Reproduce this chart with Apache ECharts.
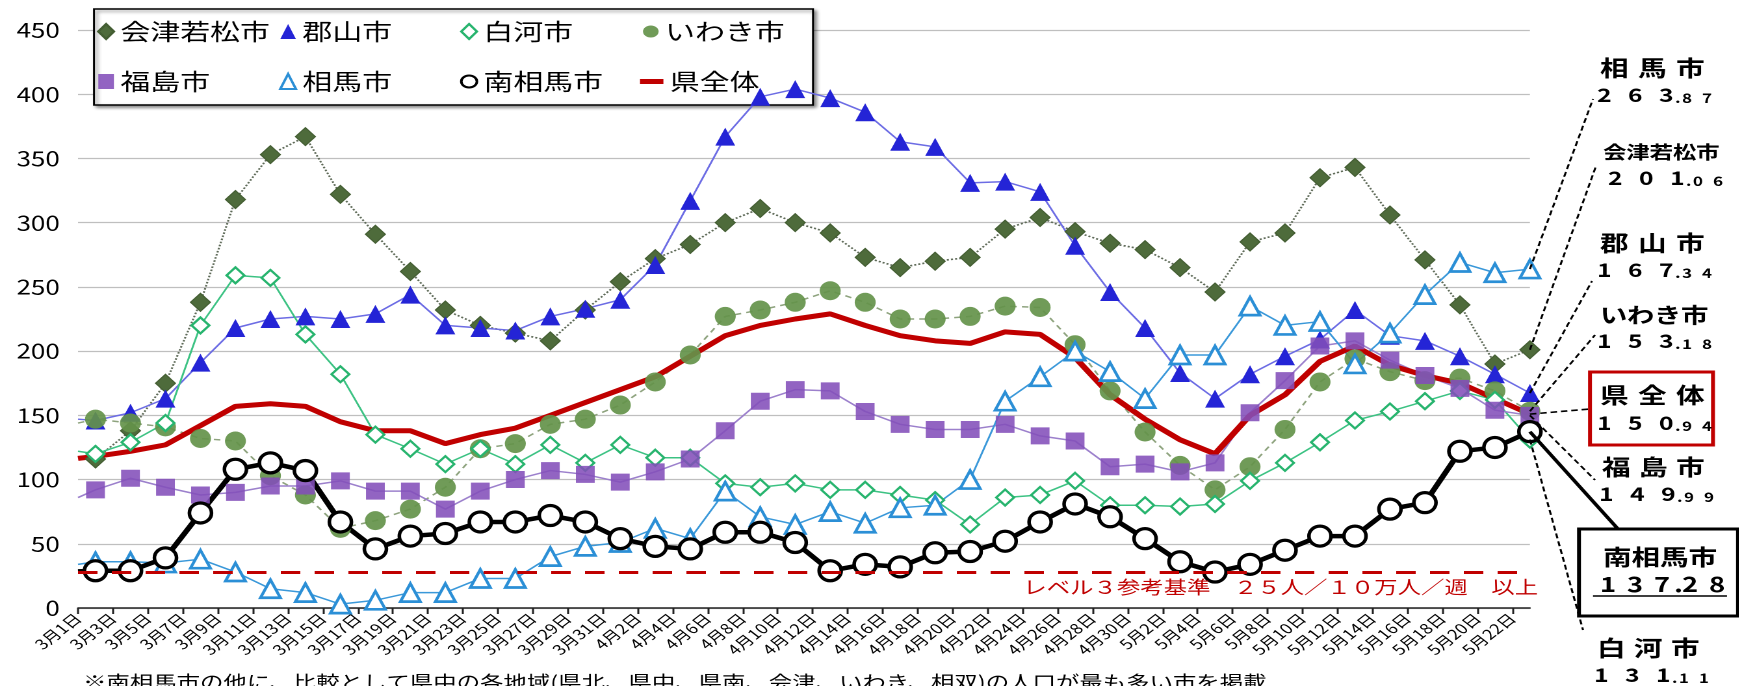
<!DOCTYPE html>
<html>
<head>
<meta charset="utf-8">
<title>人口10万人当たり新規陽性者数（直近1週間）</title>
<script src="https://cdn.jsdelivr.net/npm/echarts@6.0.0/dist/echarts.min.js"></script>
<style>
html, body { margin: 0; padding: 0; height: 100%; background: #fff; overflow: hidden; }
#main { height: 686px; transform-origin: 0 0; }
</style>
</head>
<body>
<div id="main"></div>
<script>
// 元の図は横に引き伸ばされているので、細いキャンバスに描いてCSSで横だけ広げる
var S = 1.3;
var W = 1740 / S;
function px(x) { return x / S; }
var FONT = '"Noto Sans CJK JP", sans-serif';

// 3月1日〜5月23日（日ごとのカテゴリ。値は2日おき）
var months = [[3, 31], [4, 30], [5, 23]];
var days = [];
months.forEach(function (m) {
	for (var d = 1; d <= m[1]; d++) days.push(m[0] + '月' + d + '日');
});

var aizu       = [116,138,175,238,318,353,367,322,291,262,232,220,214,208,232,254,272,283,300,311,300,292,273,265,270,273,295,304,293,284,279,265,246,285,292,335,343,306,271,236,190,201.06];
var koriyama   = [146,152,163,191,218,225,227,225,229,244,220,218,216,227,233,240,267,317,367,398,404,397,386,363,359,331,332,324,282,246,218,183,163,182,196,209,232,212,208,196,182,167.34];
var shirakawa  = [120,129,144,220,259,257,213,182,135,124,112,124,112,127,113,127,117,117,97,94,97,92,92,88,84,65,86,88,99,80,80,79,81,99,113,129,146,153,161,169,162,131.11];
var iwaki      = [147,144,141,132,130,103,88,62,68,77,94,124,128,143,147,158,176,197,227,232,238,247,238,225,225,227,235,234,205,169,137,111,92,110,139,176,194,184,177,179,169,153.18];
var fukushima  = [92,101,94,88,90,95,95,99,91,91,77,91,100,107,104,98,106,116,138,161,170,169,153,143,139,139,143,134,130,110,112,106,113,152,177,204,208,193,181,171,154,149.99];
var soma       = [36,36,35,38,28,15,12,3,6,12,12,23,23,40,48,51,62,54,91,71,65,75,66,78,80,100,161,180,200,184,163,197,197,235,220,223,190,214,244,269,261,263.87];
var minamisoma = [29,29,39,74,108,113,107,67,46,56,58,67,67,72,67,54,48,46,59,59,51,29,34,32,43,44,52,67,81,71,54,36,28,34,45,56,56,77,82,122,125,137.28];
var ken        = [118,122,127,142,157,159,157,145,138,138,128,135,140,150,160,170,180,196,212,220,225,229,220,212,208,206,215,213,195,166,147,131,120,150,166,192,204,189,181,175,163,150.94];

// 左端(3月1日)での線の高さ
var leftEdge = { '郡山市': 147, '白河市': 122, 'いわき市': 144, '福島市': 86, '相馬市': 34, '南相馬市': 28.5, '県全体': 116.5 };

var REF_LEVEL = 27.8;
var REF_TEXT = 'レベル３参考基準　２５人／１０万人／週　以上';
var NOTE = '※南相馬市の他に、比較として県中の各地域(県北、県中、県南、会津、いわき、相双)の人口が最も多い市を掲載';

var main = document.getElementById('main');
main.style.width = W + 'px';
main.style.transform = 'scaleX(' + S + ')';
var myChart = echarts.init(main, null, { devicePixelRatio: 2 });

function toDays(vals, start) {
	var out = days.map(function () { return null; });
	if (start != null) out[0] = { value: start, symbol: 'none' };
	vals.forEach(function (v, i) { out[2 * i + 1] = v; });
	return out;
}

function line(name, vals, sym, h, fill, border, bw, lineColor, lw, lt) {
	return {
		name: name,
		type: 'line',
		data: toDays(vals, leftEdge[name]),
		connectNulls: true,
		showAllSymbol: true,
		symbol: sym,
		symbolSize: [h * 0.85, h],
		itemStyle: { color: fill, borderColor: border, borderWidth: bw },
		lineStyle: { color: lineColor, width: lw, type: lt },
		emphasis: { disabled: true }
	};
}

var series = [
	line('会津若松市', aizu, 'diamond', 18, '#4e6b3b', '#435d32', 1, '#5e6a58', 1.6, 'dotted'),
	line('郡山市', koriyama, 'triangle', 18, '#2424d6', '#2424d6', 0, '#6c6ce4', 1.5, 'solid'),
	line('いわき市', iwaki, 'circle', 19, 'rgba(100,146,74,0.92)', 'rgba(100,146,74,0.92)', 0, '#8ea37e', 1.5, [5, 4]),
	line('白河市', shirakawa, 'diamond', 16, '#fff', '#27b46e', 2, '#3cc283', 1.5, 'solid'),
	line('福島市', fukushima, 'rect', 17, 'rgba(131,79,186,0.88)', 'rgba(131,79,186,0.88)', 0, '#9c80cc', 1.5, 'solid'),
	line('相馬市', soma, 'triangle', 18, '#fff', '#2b8fd6', 2.5, '#3a98d9', 1.5, 'solid'),
	line('県全体', ken, 'none', 1, '#c00000', '#c00000', 0, '#c00000', 5, 'solid'),
	line('南相馬市', minamisoma, 'circle', 20, '#fff', '#000', 3, '#000', 4.5, 'solid')
];
series[6].markLine = {
	silent: true,
	symbol: ['none', 'none'],
	data: [{ yAxis: REF_LEVEL }],
	lineStyle: { color: '#c00000', type: [15, 11], width: 3 },
	label: {
		position: 'insideEndBottom', formatter: REF_TEXT, color: '#c00000',
		fontSize: 18, fontFamily: FONT, distance: 6, offset: [px(16), 0]
	},
	emphasis: { disabled: true }
};

function legendCol(names, icons, left, top, extra) {
	var l = {
		orient: 'vertical', left: left, top: top, padding: 0, itemGap: 27,
		itemWidth: 12, itemHeight: 15, symbolKeepAspect: false, selectedMode: false,
		textStyle: { fontSize: 23, color: '#000', fontFamily: FONT },
		data: names.map(function (n, i) { return { name: n, icon: icons[i] }; })
	};
	for (var k in extra) l[k] = extra[k];
	return l;
}

var option = {
	animation: false,
	textStyle: { fontFamily: FONT },
	grid: { left: px(78), right: W - px(1530.5), top: 30, bottom: 78, outerBoundsMode: 'none' },
	legend: [
		legendCol(['会津若松市', '福島市'], ['diamond', 'rect'], px(97), 20),
		legendCol(['郡山市', '相馬市'], ['triangle', 'triangle'], px(279), 20),
		legendCol(['白河市', '南相馬市'], ['diamond', 'circle'], px(460), 20),
		legendCol(['いわき市'], ['circle'], px(643), 20),
		legendCol(['県全体'], ['rect'], px(640), 70, { itemWidth: 18, itemHeight: 5 })
	],
	xAxis: {
		type: 'category',
		data: days,
		boundaryGap: false,
		axisLine: { lineStyle: { color: '#222', width: 1.5 } },
		axisTick: { interval: 1, length: 6, lineStyle: { color: '#222', width: 1.5 } },
		axisLabel: { interval: 1, rotate: 45, fontSize: 14, color: '#000', margin: 8, fontFamily: FONT },
		splitLine: { show: false }
	},
	yAxis: {
		type: 'value',
		min: 0,
		max: 450,
		interval: 50,
		axisLine: { show: false },
		axisTick: { show: false },
		axisLabel: { fontSize: 20, color: '#000', margin: 14, fontFamily: FONT },
		splitLine: { lineStyle: { color: '#bfbfbf', width: 1.2 } }
	},
	series: series
};
myChart.setOption(option);

// 右側の注記
var notes = [
	{ name: '相馬市', vals: soma, nameX: 1600, nameY: 68, numX: 1597, numY: 95, pitch: 38, size: 22, end: [1593, 99] },
	{ name: '会津若松市', vals: aizu, nameX: 1603, nameY: 152, numX: 1608, numY: 178, pitch: 23.3, size: 18, end: [1596, 166] },
	{ name: '郡山市', vals: koriyama, nameX: 1600, nameY: 243, numX: 1597, numY: 270, pitch: 38, size: 22, end: [1592, 281] },
	{ name: 'いわき市', vals: iwaki, nameX: 1600, nameY: 315, numX: 1597, numY: 341, pitch: 27, size: 21, end: [1595, 335] },
	{ name: '県全体', vals: ken, nameX: 1600, nameY: 395, numX: 1597, numY: 423, pitch: 38, size: 22, end: [1590, 409] },
	{ name: '福島市', vals: fukushima, nameX: 1602, nameY: 467, numX: 1599, numY: 494, pitch: 37, size: 22, end: [1595, 480] },
	{ name: '南相馬市', vals: minamisoma, nameX: 1603, nameY: 557, numX: 1600, numY: 584, pitch: 28.5, size: 22, end: [1618, 529], solid: true },
	{ name: '白河市', vals: shirakawa, nameX: 1597, nameY: 648, numX: 1594, numY: 675, pitch: 37, size: 22, end: [1583, 630] }
];

function tokens(str, key) {
	return str.split('').map(function (c) { return '{' + key + '|' + c + '}'; }).join('');
}
function numText(v, big) {
	var s = v.toFixed(2).split('.');
	var head = s[0].slice(0, -1), last = s[0].slice(-1);
	if (big) return tokens(head, 'B') + '{E|' + last + '}{D|.}' + tokens(s[1], 'B');
	return tokens(head, 'b') + '{e|' + last + '}{d|.}' + tokens(s[1], 's');
}
function tk(size, w) {
	return { fontSize: size, fontWeight: 'bold', fill: '#000', width: px(w), align: 'left', verticalAlign: 'bottom', fontFamily: FONT };
}
var numRich = {
	b: tk(19, 31), e: tk(19, 16), d: tk(13, 7), s: tk(13, 20),
	B: tk(21, 27), E: tk(21, 20), D: tk(21, 8)
};

var lastIdx = days.length - 1;
var els = [
	{
		type: 'rect', z: 3,
		shape: { x: px(94), y: 9, width: px(813) - px(94), height: 96 },
		style: { fill: '#fff', stroke: '#000', lineWidth: 1.5, shadowBlur: 3, shadowOffsetX: 2, shadowOffsetY: 2, shadowColor: 'rgba(0,0,0,0.45)' }
	},
	{
		type: 'text', z: 5,
		style: { x: px(83), y: 673, text: NOTE, fontSize: 18, fill: '#000', fontFamily: FONT, verticalAlign: 'top', textVerticalAlign: 'top' }
	},
	{
		type: 'rect', z: 5,
		shape: { x: px(1590), y: 372, width: px(1713) - px(1590), height: 73 },
		style: { fill: '#fff', stroke: '#c00000', lineWidth: 3 }
	},
	{
		type: 'rect', z: 5,
		shape: { x: px(1579), y: 529, width: px(1738) - px(1579), height: 87 },
		style: { fill: '#fff', stroke: '#000', lineWidth: 3 }
	},
	{
		type: 'line', z: 6,
		shape: { x1: px(1593), y1: 596, x2: px(1727), y2: 596 },
		style: { stroke: '#000', lineWidth: 1.5 }
	}
];

notes.forEach(function (n) {
	var p = myChart.convertToPixel({ gridIndex: 0 }, [lastIdx, n.vals[n.vals.length - 1]]);
	var ls = { stroke: '#000', lineWidth: n.solid ? 3 : 1.6 };
	if (!n.solid) ls.lineDash = [5, 3];
	els.push({ type: 'line', z: 4, shape: { x1: p[0], y1: p[1], x2: px(n.end[0]), y2: n.end[1] }, style: ls });
	els.push({
		type: 'text', z: 6,
		style: {
			x: px(n.nameX), y: n.nameY, text: tokens(n.name, 'c'),
			align: 'left', verticalAlign: 'middle', textVerticalAlign: 'middle',
			rich: { c: { fontSize: n.size, fontWeight: 'bold', fill: '#000', width: px(n.pitch), align: 'left', fontFamily: FONT } }
		}
	});
	els.push({
		type: 'text', z: 6,
		style: {
			x: px(n.numX), y: n.numY, text: numText(n.vals[n.vals.length - 1], n.solid),
			align: 'left', verticalAlign: 'middle', textVerticalAlign: 'middle',
			rich: numRich
		}
	});
});

myChart.setOption({ graphic: { elements: els } });
</script>
</body>
</html>
